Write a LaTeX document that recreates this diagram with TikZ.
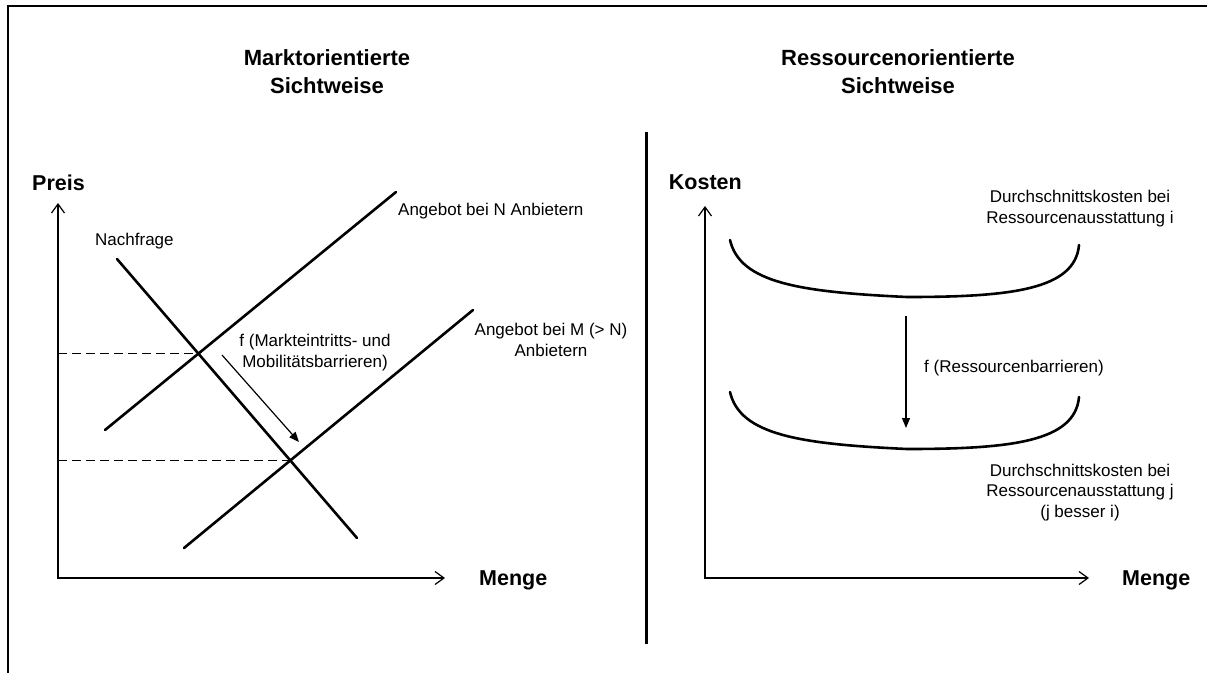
\documentclass[tikz,border=0pt]{standalone}
\usepackage{fontspec}
\setmainfont{Liberation Sans}
\usetikzlibrary{arrows.meta}
\begin{document}
\begin{tikzpicture}[x=1pt,y=-1pt,
  curve/.style={line width=2.6pt, line cap=round},
  axis/.style={line width=1.6pt, line join=miter, {Straight Barb[length=9pt,width=13pt,line width=1.2pt]}-{Straight Barb[length=9pt,width=13pt,line width=1.2pt]}},
  guide/.style={line width=1.4pt, dash pattern=on 9pt off 5pt},
  shiftarrow/.style={line width=1.2pt, -{Triangle[length=10pt,width=8pt]}},
  lbl/.style={font=\fontsize{17}{20.5}\selectfont, inner sep=0pt, align=center},
  axlbl/.style={font=\bfseries\fontsize{21.5}{24}\selectfont, inner sep=0pt},
  ttl/.style={font=\bfseries\fontsize{22}{28}\selectfont, inner sep=0pt, align=center},
]
\useasboundingbox (0,0) rectangle (1207,672);
% frame and divider
\coordinate (fbl) at (8,680);
\coordinate (ftl) at (8,6);
\coordinate (ftr) at (1215,6);
\draw[line width=2.5pt] (fbl) -- (ftl) -- (ftr);
\coordinate (dtop) at (646.5,132);
\coordinate (dbot) at (646.5,644);
\draw[line width=3pt] (dtop) -- (dbot);

% titles (base = last line)
\node[ttl, anchor=base] (t1) at (327,93) {Marktorientierte\\Sichtweise};
\node[ttl, anchor=base] (t2) at (898,93) {Ressourcenorientierte\\Sichtweise};

% ---------- left chart ----------
\coordinate (lo) at (58,578);
\coordinate (lytip) at (58,203);
\coordinate (lxtip) at (445,578);
\draw[axis] (lytip) -- (lo) -- (lxtip);
\node[axlbl, anchor=base] (preis) at (58.5,190) {Preis};
\node[axlbl, anchor=base west] (menge1) at (479,585) {Menge};

\coordinate (sn1) at (105,430);
\coordinate (sn2) at (396,192);
\coordinate (d1) at (117,259);
\coordinate (d2) at (357,538);
\coordinate (sm1) at (184,548);
\coordinate (sm2) at (473,310);
\draw[curve] (sn1) -- (sn2);
\draw[curve] (d1) -- (d2);
\draw[curve] (sm1) -- (sm2);
\coordinate (e1) at (intersection of sn1--sn2 and d1--d2);
\coordinate (e2) at (intersection of sm1--sm2 and d1--d2);
\draw[guide] (e1 -| lo) -- (e1);
\draw[guide] (e2 -| lo) -- (e2);

\coordinate (ma1) at (222,355);
\coordinate (ma2) at (299,442);
\draw[shiftarrow] (ma1) -- (ma2);

\node[lbl, anchor=base west] (nachfrage) at (95,245) {Nachfrage};
\node[lbl, anchor=base west] (angn) at (398,215) {Angebot bei N Anbietern};
\node[lbl, anchor=base] (angm) at (551,356) {Angebot bei M (> N)\\Anbietern};
\node[lbl, anchor=base] (fmkt) at (315,367) {f (Markteintritts- und\\Mobilitätsbarrieren)};

% ---------- right chart ----------
\coordinate (ro) at (705,578);
\coordinate (rytip) at (705,206);
\coordinate (rxtip) at (1089,578);
\draw[axis] (rytip) -- (ro) -- (rxtip);
\node[axlbl, anchor=base east] (kosten) at (742,189) {Kosten};
\node[axlbl, anchor=base west] (menge2) at (1122,585) {Menge};

\coordinate (c1a) at (730,240);
\coordinate (c1m) at (907,297);
\coordinate (c1b) at (1079,245);
\draw[curve] (c1a) .. controls (740,283) and (800,292) .. (c1m)
                   .. controls (1010,297) and (1075,290) .. (c1b);
\coordinate (c2a) at (730,392);
\coordinate (c2m) at (907,449);
\coordinate (c2b) at (1079,397);
\draw[curve] (c2a) .. controls (740,435) and (800,444) .. (c2m)
                   .. controls (1010,449) and (1075,442) .. (c2b);

\coordinate (ra1) at (906,316);
\coordinate (ra2) at (906,428);
\draw[shiftarrow] (ra1) -- (ra2);

\node[lbl, anchor=base west] (fres) at (924,372) {f (Ressourcenbarrieren)};
\node[lbl, anchor=base] (dki) at (1080,223) {Durchschnittskosten bei\\Ressourcenausstattung i};
\node[lbl, anchor=base] (dkj) at (1080,517) {Durchschnittskosten bei\\Ressourcenausstattung j\\(j besser i)};
\end{tikzpicture}
\end{document}
